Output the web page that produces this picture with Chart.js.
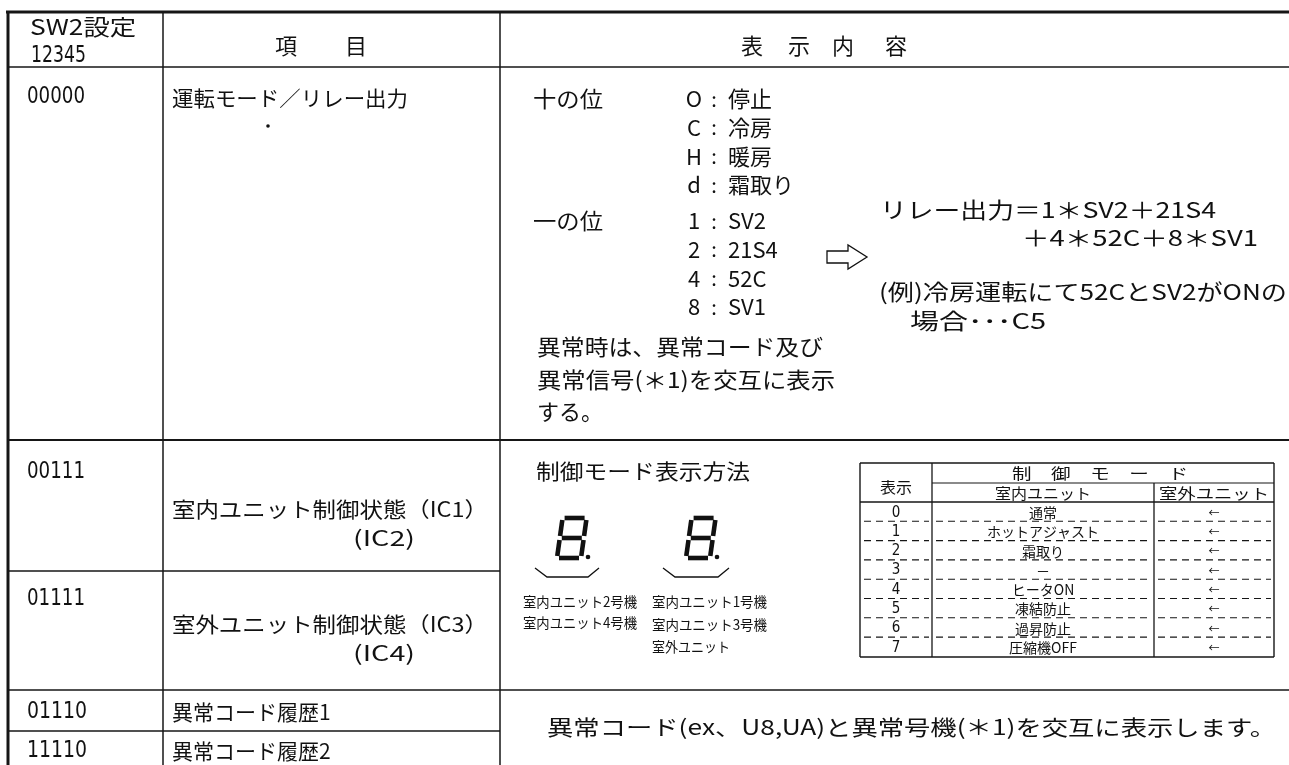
<!DOCTYPE html>
<html>
<head>
<meta charset="utf-8">
<script src="https://cdn.jsdelivr.net/npm/chart.js@4"></script>
<style>
  body { margin: 0; background: #fff; }
  canvas { display: block; }
</style>
</head>
<body>
<canvas id="sheet" width="1289" height="765"></canvas>
<script>
// table contents
var swCodes = ['00000', '00111', '01111', '01110', '11110'];
var itemNames = ['運転モード／リレー出力', '室内ユニット制御状態（IC1）', '室外ユニット制御状態（IC3）', '異常コード履歴1', '異常コード履歴2'];
var itemSubs = ['', '(IC2)', '(IC4)', '', ''];

var tensDigits = ['O', 'C', 'H', 'd'];
var tensNames = ['停止', '冷房', '暖房', '霜取り'];
var onesDigits = ['1', '2', '4', '8'];
var onesNames = ['SV2', '21S4', '52C', 'SV1'];

var relayLines = ['リレー出力＝1＊SV2＋21S4', '＋4＊52C＋8＊SV1'];
var exampleLines = ['(例)冷房運転にて52CとSV2がONの', '場合･･･C5'];
var errorLines = ['異常時は、異常コード及び', '異常信号(＊1)を交互に表示', 'する。'];

var leftDigitLabels = ['室内ユニット2号機', '室内ユニット4号機'];
var rightDigitLabels = ['室内ユニット1号機', '室内ユニット3号機', '室外ユニット'];

var modeCodes = ['0', '1', '2', '3', '4', '5', '6', '7'];
var indoorModes = ['通常', 'ホットアジャスト', '霜取り', '－', 'ヒータON', '凍結防止', '過昇防止', '圧縮機OFF'];
var outdoorModes = ['←', '←', '←', '←', '←', '←', '←', '←'];

var historyText = '異常コード(ex、U8,UA)と異常号機(＊1)を交互に表示します。';

var JP = '"Noto Sans CJK JP", "Noto Sans", sans-serif';
var NARROW = '"Liberation Sans Narrow", "DejaVu Sans Condensed", sans-serif';

var tablePlugin = {
  id: 'tablePlugin',
  afterDraw: function(chart){
    var ctx = chart.ctx;
    var sx = chart.scales.x, sy = chart.scales.y;
    function X(v){ return sx.getPixelForValue(v); }
    function Y(v){ return sy.getPixelForValue(v); }

    function line(x1, y1, x2, y2, w, dash){
      ctx.save();
      ctx.strokeStyle = '#161616';
      ctx.lineWidth = w || 1.5;
      ctx.setLineDash(dash || []);
      ctx.beginPath();
      ctx.moveTo(X(x1), Y(y1));
      ctx.lineTo(X(x2), Y(y2));
      ctx.stroke();
      ctx.restore();
    }

    // text at x,y (middle baseline); w squeezes it to a width
    function text(s, x, y, size, w, align, family){
      ctx.save();
      ctx.fillStyle = '#111';
      ctx.font = size + 'px ' + (family || JP);
      ctx.textBaseline = 'middle';
      ctx.textAlign = 'left';
      var m = ctx.measureText(s).width;
      var k = w ? w / m : 1;
      var ox = 0;
      if (align === 'center') ox = -m * k / 2;
      if (align === 'right') ox = -m * k;
      ctx.translate(X(x) + ox, Y(y));
      ctx.scale(k, 1);
      ctx.fillText(s, 0, 0);
      ctx.restore();
    }

    // main grid
    line(6, 12, 1289, 12, 3);
    line(8, 11, 8, 765, 3);
    line(163, 12, 163, 765, 1.5);
    line(500, 12, 500, 765, 1.5);
    line(8, 67, 1289, 67, 1.5);
    line(8, 440, 1289, 440, 1.8);
    line(8, 571, 500, 571, 1.5);
    line(8, 690, 1289, 690, 1.5);
    line(8, 731, 500, 731, 1.5);

    // header
    text('SW2設定', 30, 27, 22, 106);
    text('12345', 31, 56, 23, 55, 'left', NARROW);
    text('項', 286, 46, 22, null, 'center');
    text('目', 356, 46, 22, null, 'center');
    ['表', '示', '内', '容'].forEach(function(c, i){
      text(c, [752, 799, 843, 896][i], 46, 22, null, 'center');
    });

    // left columns
    var codeY = [97, 472, 599, 712, 751];
    var itemY = [98, 509, 624, 712, 751];
    swCodes.forEach(function(c, i){
      text(c, 27, codeY[i], 23, i > 2 ? 60 : 58, 'left', NARROW);
    });
    itemNames.forEach(function(n, i){
      var w = i === 0 ? 236 : (i < 3 ? 316 : null);
      text(n, 172, itemY[i], 21, w);
      if (itemSubs[i]) text(itemSubs[i], 353, itemY[i] + 29, 21, 62);
    });
    ctx.fillStyle = '#111';
    ctx.beginPath();
    ctx.arc(X(268), Y(126), 1.8, 0, Math.PI * 2);
    ctx.fill();

    // row 1 content
    text('十の位', 533, 99, 22, 70);
    tensDigits.forEach(function(d, i){
      var y = 99 + i * 28.7;
      text(d, 694, y, 22, null, 'center');
      text(':', 714, y, 20, null, 'center');
      text(tensNames[i], 728, y, 22);
    });
    text('一の位', 533, 221, 22, 70);
    onesDigits.forEach(function(d, i){
      var y = 221 + i * 28.7;
      text(d, 694, y, 22, null, 'center');
      text(':', 714, y, 20, null, 'center');
      text(onesNames[i], 728, y, 22);
    });

    // outline arrow
    ctx.save();
    ctx.strokeStyle = '#111';
    ctx.lineWidth = 1.3;
    ctx.beginPath();
    ctx.moveTo(X(827), Y(251));
    ctx.lineTo(X(848), Y(251));
    ctx.lineTo(X(848), Y(245));
    ctx.lineTo(X(867), Y(257));
    ctx.lineTo(X(848), Y(269));
    ctx.lineTo(X(848), Y(263));
    ctx.lineTo(X(827), Y(263));
    ctx.closePath();
    ctx.stroke();
    ctx.restore();

    text(relayLines[0], 880, 210, 22, 336);
    text(relayLines[1], 1022, 238, 22, 236);
    text(exampleLines[0], 879, 292, 22, 408);
    text(exampleLines[1], 910, 321, 22, 136);
    errorLines.forEach(function(s, i){
      text(s, 537, 347 + i * 32.5, 22, i === 0 ? 286 : (i === 1 ? 298 : 66));
    });

    // control mode display
    text('制御モード表示方法', 536, 471, 21, 214);
    function seven(x0, y0){
      var w = 24, h = 40, sk = 0.14;
      function P(a, b){ return [X(x0 + a + (h - b) * sk), Y(y0 + b)]; }
      var segs = [
        [[2, 0], [w - 2, 0]], [[w, 2], [w, h / 2 - 2]], [[w, h / 2 + 2], [w, h - 2]],
        [[2, h], [w - 2, h]], [[0, h / 2 + 2], [0, h - 2]], [[0, 2], [0, h / 2 - 2]],
        [[2, h / 2], [w - 2, h / 2]]
      ];
      ctx.save();
      ctx.strokeStyle = '#111';
      ctx.lineWidth = 4.6;
      ctx.lineCap = 'butt';
      segs.forEach(function(s){
        var a = P(s[0][0], s[0][1]), b = P(s[1][0], s[1][1]);
        ctx.beginPath();
        ctx.moveTo(a[0], a[1]);
        ctx.lineTo(b[0], b[1]);
        ctx.stroke();
      });
      ctx.fillStyle = '#111';
      ctx.beginPath();
      ctx.arc(X(x0 + w + 7), Y(y0 + h - 1), 2.3, 0, Math.PI * 2);
      ctx.fill();
      ctx.restore();
    }
    seven(557, 518);
    seven(686, 518);
    function bracket(a, b){
      ctx.save();
      ctx.strokeStyle = '#111';
      ctx.lineWidth = 1.3;
      ctx.beginPath();
      ctx.moveTo(X(a), Y(568));
      ctx.lineTo(X(a + 12), Y(577));
      ctx.lineTo(X(b - 11), Y(577));
      ctx.lineTo(X(b), Y(568));
      ctx.stroke();
      ctx.restore();
    }
    bracket(535, 599);
    bracket(663, 729);
    leftDigitLabels.forEach(function(s, i){ text(s, 523, 602 + i * 21, 14, 114); });
    rightDigitLabels.forEach(function(s, i){
      text(s, 652, 602 + i * 22.5, 14, i < 2 ? 115 : 78);
    });

    // mode table
    var L = 860, R = 1274, C1 = 932, C2 = 1154, T = 463, B = 657;
    line(L, T, R, T, 1.4);
    line(L, B, R, B, 1.4);
    line(L, T, L, B, 1.4);
    line(R, T, R, B, 1.4);
    line(C1, T, C1, B, 1.3);
    line(C2, 483, C2, B, 1.3);
    line(C1, 483, R, 483, 1.2);
    line(L, 502, R, 502, 1.4);
    text('表示', 896, 487, 15, 32, 'center');
    text('制　御　モ　ー　ド', 1100, 473, 15, 176, 'center');
    text('室内ユニット', 1043, 493, 15, 96, 'center');
    text('室外ユニット', 1214, 493, 15, 110, 'center');
    var rowH = 19.3;
    modeCodes.forEach(function(c, i){
      var yb = 502 + (i + 1) * rowH;
      var ym = yb - rowH / 2 + 1;
      text(c, 896, ym, 15, null, 'center', NARROW);
      text(indoorModes[i], 1043, ym, 14, null, 'center');
      text(outdoorModes[i], 1214, ym, 11, null, 'center');
      if (i < modeCodes.length - 1) {
        line(L + 4, yb, C1 - 3, yb, 1.1, [7, 5]);
        line(C1 + 4, yb, C2 - 3, yb, 1.1, [7, 5]);
        line(C2 + 4, yb, R - 3, yb, 1.1, [7, 5]);
      }
    });

    // history rows
    text(historyText, 547, 727, 21, 729);
  }
};

new Chart(document.getElementById('sheet'), {
  type: 'scatter',
  data: { datasets: [] },
  options: {
    responsive: false,
    animation: false,
    layout: { padding: 0 },
    plugins: { legend: { display: false }, tooltip: { enabled: false } },
    scales: {
      x: { type: 'linear', min: 0, max: 1289, display: false },
      y: { type: 'linear', min: 0, max: 765, reverse: true, display: false }
    }
  },
  plugins: [tablePlugin]
});
</script>
</body>
</html>
